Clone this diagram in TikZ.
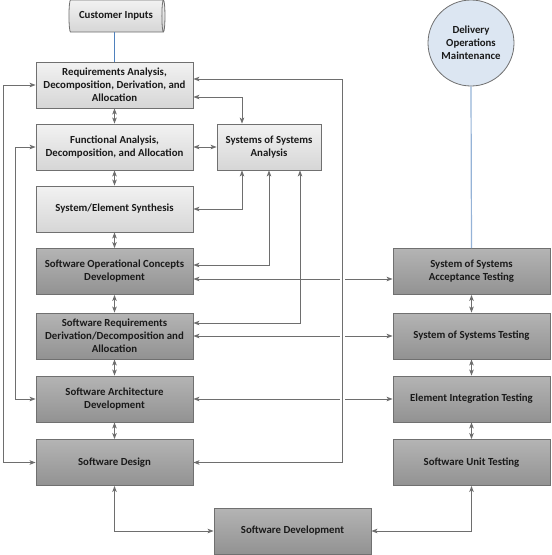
\documentclass[tikz,border=0pt]{standalone}
\usepackage{fontspec}
\setmainfont{Carlito}
\usetikzlibrary{arrows.meta, shapes.geometric}

\definecolor{boxline}{HTML}{707070}
\definecolor{linkgray}{HTML}{6E6E6E}
\definecolor{lighttop}{HTML}{F2F2F2}
\definecolor{lightbot}{HTML}{D6D6D6}
\definecolor{darktop}{HTML}{B4B4B4}
\definecolor{darkbot}{HTML}{929292}
\definecolor{custblue}{HTML}{4F81BD}
\definecolor{domblue}{HTML}{95B3D7}
\definecolor{domfill}{HTML}{DCE6F2}
\definecolor{inktext}{HTML}{1A1A1A}

\begin{document}
\begin{tikzpicture}[x=1pt, y=-1pt,
    every node/.style={font={\bfseries\fontsize{10.8}{13}\selectfont}, align=center, text=inktext},
    >={Stealth[length=6pt, width=4.5pt, inset=1.5pt]},
    lightbox/.style={draw=boxline, line width=0.8pt, top color=lighttop, bottom color=lightbot, minimum width=157, minimum height=46, inner sep=0pt},
    darkbox/.style={lightbox, top color=darktop, bottom color=darkbot},
    link/.style={draw=linkgray, line width=1pt}]
    \useasboundingbox (0,0) rectangle (552,555);

    % left column
    \node[lightbox] (req) at (114.5,85) {Requirements Analysis,\\Decomposition, Derivation, and\\Allocation};
    \node[lightbox] (func) at (114.5,147) {Functional Analysis,\\Decomposition, and Allocation};
    \node[lightbox] (synth) at (114.5,209) {System/Element Synthesis};
    \node[lightbox, minimum width=104] (sosa) at (269,147) {Systems of Systems\\Analysis};
    \node[darkbox] (opscon) at (114.5,271.5) {Software Operational Concepts\\Development};
    \node[darkbox] (swreq) at (114.5,336) {Software Requirements\\Derivation/Decomposition and\\Allocation};
    \node[darkbox] (arch) at (114.5,399) {Software Architecture\\Development};
    \node[darkbox] (design) at (114.5,462.5) {Software Design};
    \node[darkbox] (dev) at (292.5,531) {Software Development};

    % right column
    \node[darkbox] (acc) at (471.5,271.5) {System of Systems\\Acceptance Testing};
    \node[darkbox] (sostest) at (471.5,336) {System of Systems Testing};
    \node[darkbox] (integ) at (471.5,399) {Element Integration Testing};
    \node[darkbox] (unit) at (471.5,462.5) {Software Unit Testing};

    % start and end
    \node[cylinder, draw=boxline, line width=0.8pt, top color=lighttop, bottom color=lightbot, minimum width=32, minimum height=96, shape aspect=0.35, inner sep=0pt] (cust) at (116,16) {Customer Inputs};
    \node[circle, draw=boxline, line width=0.8pt, fill=domfill, minimum size=86, inner sep=0pt] (dom) at (471,43) {Delivery\\Operations\\Maintenance};

    \draw[line width=1pt, custblue] (req.north) -- (req.north |- cust.south);
    \draw[line width=1.2pt, domblue] (dom.south) -- (acc.north);

    % rails
    \coordinate (outer) at (3,0);
    \coordinate (inner) at (15,0);
    \coordinate (railtop) at (342,79);
    \coordinate (railbot) at (342,462.5);

    \foreach \a/\b in {req/func, func/synth, synth/opscon, opscon/swreq, swreq/arch, arch/design, acc/sostest, sostest/integ, integ/unit}
        \draw[link, <->] (\a) -- (\b);

    \draw[link, <->] ([yshift=-12pt]req.east) -| ([xshift=-27pt]sosa.north);
    \draw[link, <->] (func) -- (sosa);
    \draw[link, <->] (synth) -| ([xshift=-27pt]sosa.south);
    \draw[link, <->] ([yshift=6.5pt]opscon.east) -| (sosa.south);
    \draw[link, <->] ([yshift=13pt]swreq.east) -| ([xshift=31pt]sosa.south);

    \draw[link, <->] ([yshift=-7.5pt]opscon.east) -- ([yshift=-7.5pt]acc.west);
    \draw[link, <->] (swreq) -- (sostest);
    \draw[link, <->] (arch) -- (integ);

    \draw[white, line width=5pt] (railtop) -- (railbot);
    \draw[link, <->] ([yshift=6pt]req.east) -- (railtop) -- (railbot) -- (design.east);

    \draw[link, <->] (req.west) -- (req.west -| outer) -- (design.west -| outer) -- (design.west);
    \draw[link, <->] (func.west) -- (func.west -| inner) -- (arch.west -| inner) -- (arch.west);

    \draw[link, <->] (design.south) |- (dev.west);
    \draw[link, <->] (unit.south) |- (dev.east);
\end{tikzpicture}
\end{document}
